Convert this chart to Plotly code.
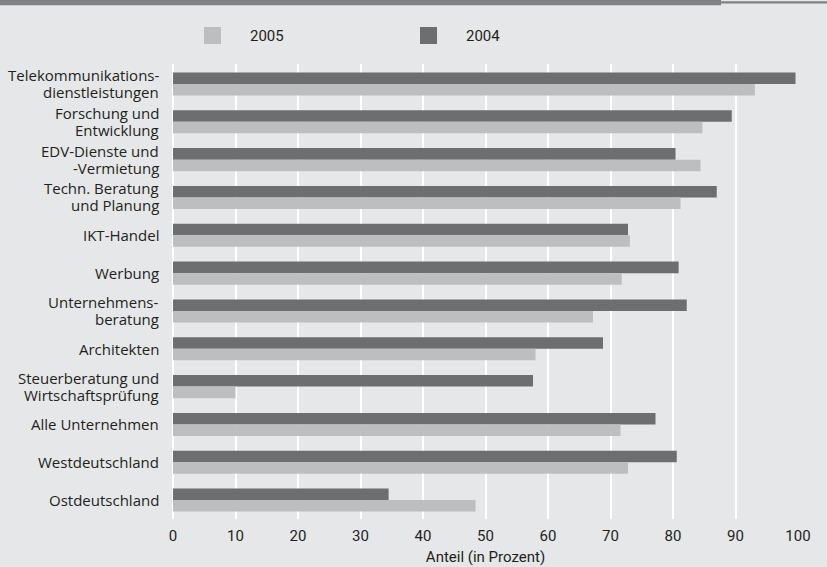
import plotly.graph_objects as go

# Branchen und Regionen, von oben nach unten
categories = [
    "Telekommunikations-<br>dienstleistungen",
    "Forschung und<br>Entwicklung",
    "EDV-Dienste und<br>-Vermietung",
    "Techn. Beratung<br>und Planung",
    "IKT-Handel",
    "Werbung",
    "Unternehmens-<br>beratung",
    "Architekten",
    "Steuerberatung und<br>Wirtschaftsprüfung",
    "Alle Unternehmen",
    "Westdeutschland",
    "Ostdeutschland",
]

# Anteil in Prozent
values_2004 = [99.6, 89.4, 80.4, 87.0, 72.8, 80.9, 82.2, 68.8, 57.6, 77.2, 80.6, 34.5]
values_2005 = [93.1, 84.7, 84.4, 81.2, 73.1, 71.8, 67.2, 58.0, 10.0, 71.6, 72.8, 48.4]

x_ticks = [0, 10, 20, 30, 40, 50, 60, 70, 80, 90, 100]

BG = "#e6e7e8"
DARK = "#6d6e70"
LIGHT = "#bcbec0"
TEXT = "#231f20"
LABEL_FONT = "Open Sans"
NUM_FONT = "Liberation Sans Narrow, Roboto, sans-serif"

fig = go.Figure()
fig.add_trace(go.Bar(y=categories, x=values_2004, name="2004", orientation="h",
                     marker=dict(color=DARK, line=dict(width=0))))
fig.add_trace(go.Bar(y=categories, x=values_2005, name="2005", orientation="h",
                     marker=dict(color=LIGHT, line=dict(width=0))))

fig.update_layout(
    width=827, height=567,
    margin=dict(l=173, r=29, t=64, b=48),
    paper_bgcolor=BG, plot_bgcolor=BG,
    barmode="group", bargap=0.39, bargroupgap=0,
    showlegend=False,
    font=dict(family=LABEL_FONT, size=15, color=TEXT),
)

fig.update_xaxes(
    range=[0, 100], tickvals=x_ticks, automargin=False,
    showgrid=True, gridcolor="white", gridwidth=2,
    zeroline=True, zerolinecolor="white", zerolinewidth=2,
    showline=False, ticks="outside", ticklen=3, tickcolor="rgba(0,0,0,0)",
    tickfont=dict(family=NUM_FONT, size=15, color=TEXT),
    title=dict(text="Anteil (in Prozent)", font=dict(family=NUM_FONT, size=15, color=TEXT), standoff=7),
)
fig.update_yaxes(autorange="reversed", automargin=False, showgrid=False, showline=False,
                 showticklabels=False)

# Kategoriebeschriftung mit engem Zeilenabstand
for cat in categories:
    lines = cat.split("<br>")
    shifts = [0] if len(lines) == 1 else [9, -8]
    for line, dy in zip(lines, shifts):
        fig.add_annotation(xref="paper", yref="y", x=0, y=cat, text=line, showarrow=False,
                           xanchor="right", yanchor="middle", xshift=-12, yshift=dy,
                           font=dict(family=LABEL_FONT, size=15, color=TEXT))

# Kopfleiste
fig.add_shape(type="rect", xref="paper", yref="paper", x0=-0.3, x1=0.877, y0=1.129, y1=1.15,
              fillcolor="#808285", line_width=0, layer="above")
fig.add_shape(type="rect", xref="paper", yref="paper", x0=0.877, x1=1.06, y0=1.142, y1=1.15,
              fillcolor="white", line_width=0, layer="above")
fig.add_shape(type="rect", xref="paper", yref="paper", x0=0.877, x1=1.06, y0=1.133, y1=1.138,
              fillcolor="#808285", line_width=0, layer="above")

# Legende
legend_items = [("2005", LIGHT, 204), ("2004", DARK, 420)]
plot_w = 827 - 173 - 29
plot_h = 567 - 64 - 48
for label, color, px in legend_items:
    x0 = (px - 173) / plot_w
    x1 = (px + 17 - 173) / plot_w
    y_top = (567 - 48 - 27) / plot_h
    y_bot = (567 - 48 - 44) / plot_h
    fig.add_shape(type="rect", xref="paper", yref="paper", x0=x0, x1=x1, y0=y_bot, y1=y_top,
                  fillcolor=color, line_width=0)
    fig.add_annotation(xref="paper", yref="paper", x=(px + 44 - 173) / plot_w, y=(y_top + y_bot) / 2,
                       text=label, showarrow=False, xanchor="left", yanchor="middle",
                       font=dict(family=NUM_FONT, size=15, color=TEXT))

fig.write_html("out.html")
